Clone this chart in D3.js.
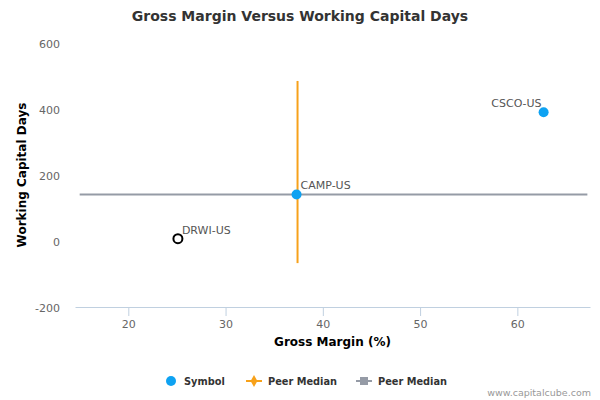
<!DOCTYPE html>
<html>
<head>
<meta charset="utf-8">
<script src="https://cdn.jsdelivr.net/npm/d3@7"></script>
<style>
body { margin: 0; background: #fff; }
svg text { font-family: "DejaVu Sans", sans-serif; }
</style>
</head>
<body>
<div class="chart"></div>
<script>
// Data ---------------------------------------------------------------------
const symbols = ["CSCO-US", "CAMP-US", "DRWI-US"];
const grossMargin = [62.7, 37.3, 25.1];
const capitalDays = [390, 141, 7];
const hollow = [false, false, true];

const medianX = 37.4;              // vertical peer median (gross margin)
const medianXSpan = [-67, 485];
const medianY = 141;               // horizontal peer median (working capital days)
const medianYSpan = [15, 67.2];

const xTicks = [20, 30, 40, 50, 60];
const yTicks = [-200, 0, 200, 400, 600];
const legendLabels = ["Symbol", "Peer Median", "Peer Median"];

// SVG Dimensions ---------------------------------------------------------------------
const width = 600;
const height = 400;
const margin = { top: 43, right: 10, bottom: 93, left: 75 };

const svg = d3.select(".chart")
  .append("svg")
  .attr("width", width)
  .attr("height", height);

// Scales ---------------------------------------------------------------------
const xScale = d3.scaleLinear()
  .domain([14.52, 67.47])
  .range([margin.left, width - margin.right]);

const yScale = d3.scaleLinear()
  .domain([-200, 600])
  .range([height - margin.bottom, margin.top]);

// Axes ---------------------------------------------------------------------
const xAxis = d3.axisBottom(xScale)
  .tickValues(xTicks)
  .tickSizeInner(9)
  .tickSizeOuter(0)
  .tickPadding(4);

const gx = svg.append("g")
  .attr("transform", `translate(0, ${yScale(-200)})`)
  .call(xAxis);
gx.select(".domain").attr("stroke", "#c0d0e0");
gx.selectAll(".tick line").attr("stroke", "#c0d0e0");
gx.selectAll(".tick text")
  .attr("fill", "#666")
  .style("font-size", "11px");

const yAxis = d3.axisLeft(yScale)
  .tickValues(yTicks)
  .tickFormat(d => String(d))
  .tickSize(0)
  .tickPadding(15);

const gy = svg.append("g")
  .attr("transform", `translate(${margin.left},0)`)
  .call(yAxis);
gy.select(".domain").remove();
gy.selectAll(".tick text")
  .attr("fill", "#666")
  .attr("dy", "0.4em")
  .style("font-size", "11px");

// Titles ---------------------------------------------------------------------
svg.append("text")
  .attr("x", 300)
  .attr("y", 21)
  .attr("text-anchor", "middle")
  .attr("fill", "#333")
  .style("font-size", "14px")
  .style("font-weight", "bold")
  .text("Gross Margin Versus Working Capital Days");

svg.append("text")
  .attr("x", (margin.left + width - margin.right) / 2)
  .attr("y", 346)
  .attr("text-anchor", "middle")
  .attr("fill", "#000")
  .style("font-size", "12px")
  .style("font-weight", "bold")
  .text("Gross Margin (%)");

svg.append("text")
  .attr("transform", `translate(26, ${yScale(200)}) rotate(-90)`)
  .attr("text-anchor", "middle")
  .attr("fill", "#000")
  .style("font-size", "12px")
  .style("font-weight", "bold")
  .text("Working Capital Days");

// Median lines ---------------------------------------------------------------------
svg.append("line")
  .attr("x1", xScale(medianYSpan[0]))
  .attr("x2", xScale(medianYSpan[1]))
  .attr("y1", yScale(medianY))
  .attr("y2", yScale(medianY))
  .attr("stroke", "#959ba6")
  .attr("stroke-width", 2);

svg.append("line")
  .attr("x1", xScale(medianX))
  .attr("x2", xScale(medianX))
  .attr("y1", yScale(medianXSpan[0]))
  .attr("y2", yScale(medianXSpan[1]))
  .attr("stroke", "#f7a11a")
  .attr("stroke-width", 2);

// Points ---------------------------------------------------------------------
const points = symbols.map((s, i) => ({
  name: s, x: grossMargin[i], y: capitalDays[i], hollow: hollow[i]
}));

svg.selectAll(".pt")
  .data(points)
  .enter()
  .append("circle")
  .attr("class", "pt")
  .attr("cx", d => xScale(d.x))
  .attr("cy", d => yScale(d.y))
  .attr("r", d => d.hollow ? 4.5 : 5)
  .attr("fill", d => d.hollow ? "#fff" : "#0ea2f2")
  .attr("stroke", d => d.hollow ? "#000" : "none")
  .attr("stroke-width", 2);

// labels: CSCO sits to the left, the others to the right
svg.selectAll(".lbl")
  .data(points)
  .enter()
  .append("text")
  .attr("class", "lbl")
  .attr("x", d => xScale(d.x) + (d.name === "CSCO-US" ? -2 : 4))
  .attr("y", d => yScale(d.y) - 5)
  .attr("text-anchor", d => d.name === "CSCO-US" ? "end" : "start")
  .attr("fill", "#555")
  .style("font-size", "11px")
  .text(d => d.name);

// Legend ---------------------------------------------------------------------
const legend = svg.append("g").attr("transform", "translate(0, 381)");
const legendX = [171, 254, 364];

legend.append("circle")
  .attr("cx", legendX[0])
  .attr("r", 5)
  .attr("fill", "#0ea2f2");

legend.append("line")
  .attr("x1", legendX[1] - 8).attr("x2", legendX[1] + 8)
  .attr("stroke", "#f7a11a").attr("stroke-width", 2);
legend.append("path")
  .attr("d", d3.symbol(d3.symbolDiamond, 40)())
  .attr("transform", `translate(${legendX[1]},0)`)
  .attr("fill", "#f7a11a");

legend.append("line")
  .attr("x1", legendX[2] - 8).attr("x2", legendX[2] + 8)
  .attr("stroke", "#959ba6").attr("stroke-width", 2);
legend.append("rect")
  .attr("x", legendX[2] - 4).attr("y", -4)
  .attr("width", 8).attr("height", 8)
  .attr("fill", "#959ba6");

legend.selectAll(".ltext")
  .data(legendLabels)
  .enter()
  .append("text")
  .attr("x", (d, i) => legendX[i] + (i === 0 ? 13 : 14))
  .attr("y", 4)
  .attr("fill", "#333")
  .style("font-size", "9.8px")
  .style("font-weight", "bold")
  .text(d => d);

// Credit ---------------------------------------------------------------------
svg.append("text")
  .attr("x", 591)
  .attr("y", 396)
  .attr("text-anchor", "end")
  .attr("fill", "#999")
  .style("font-size", "9.5px")
  .text("www.capitalcube.com");
</script>
</body>
</html>
